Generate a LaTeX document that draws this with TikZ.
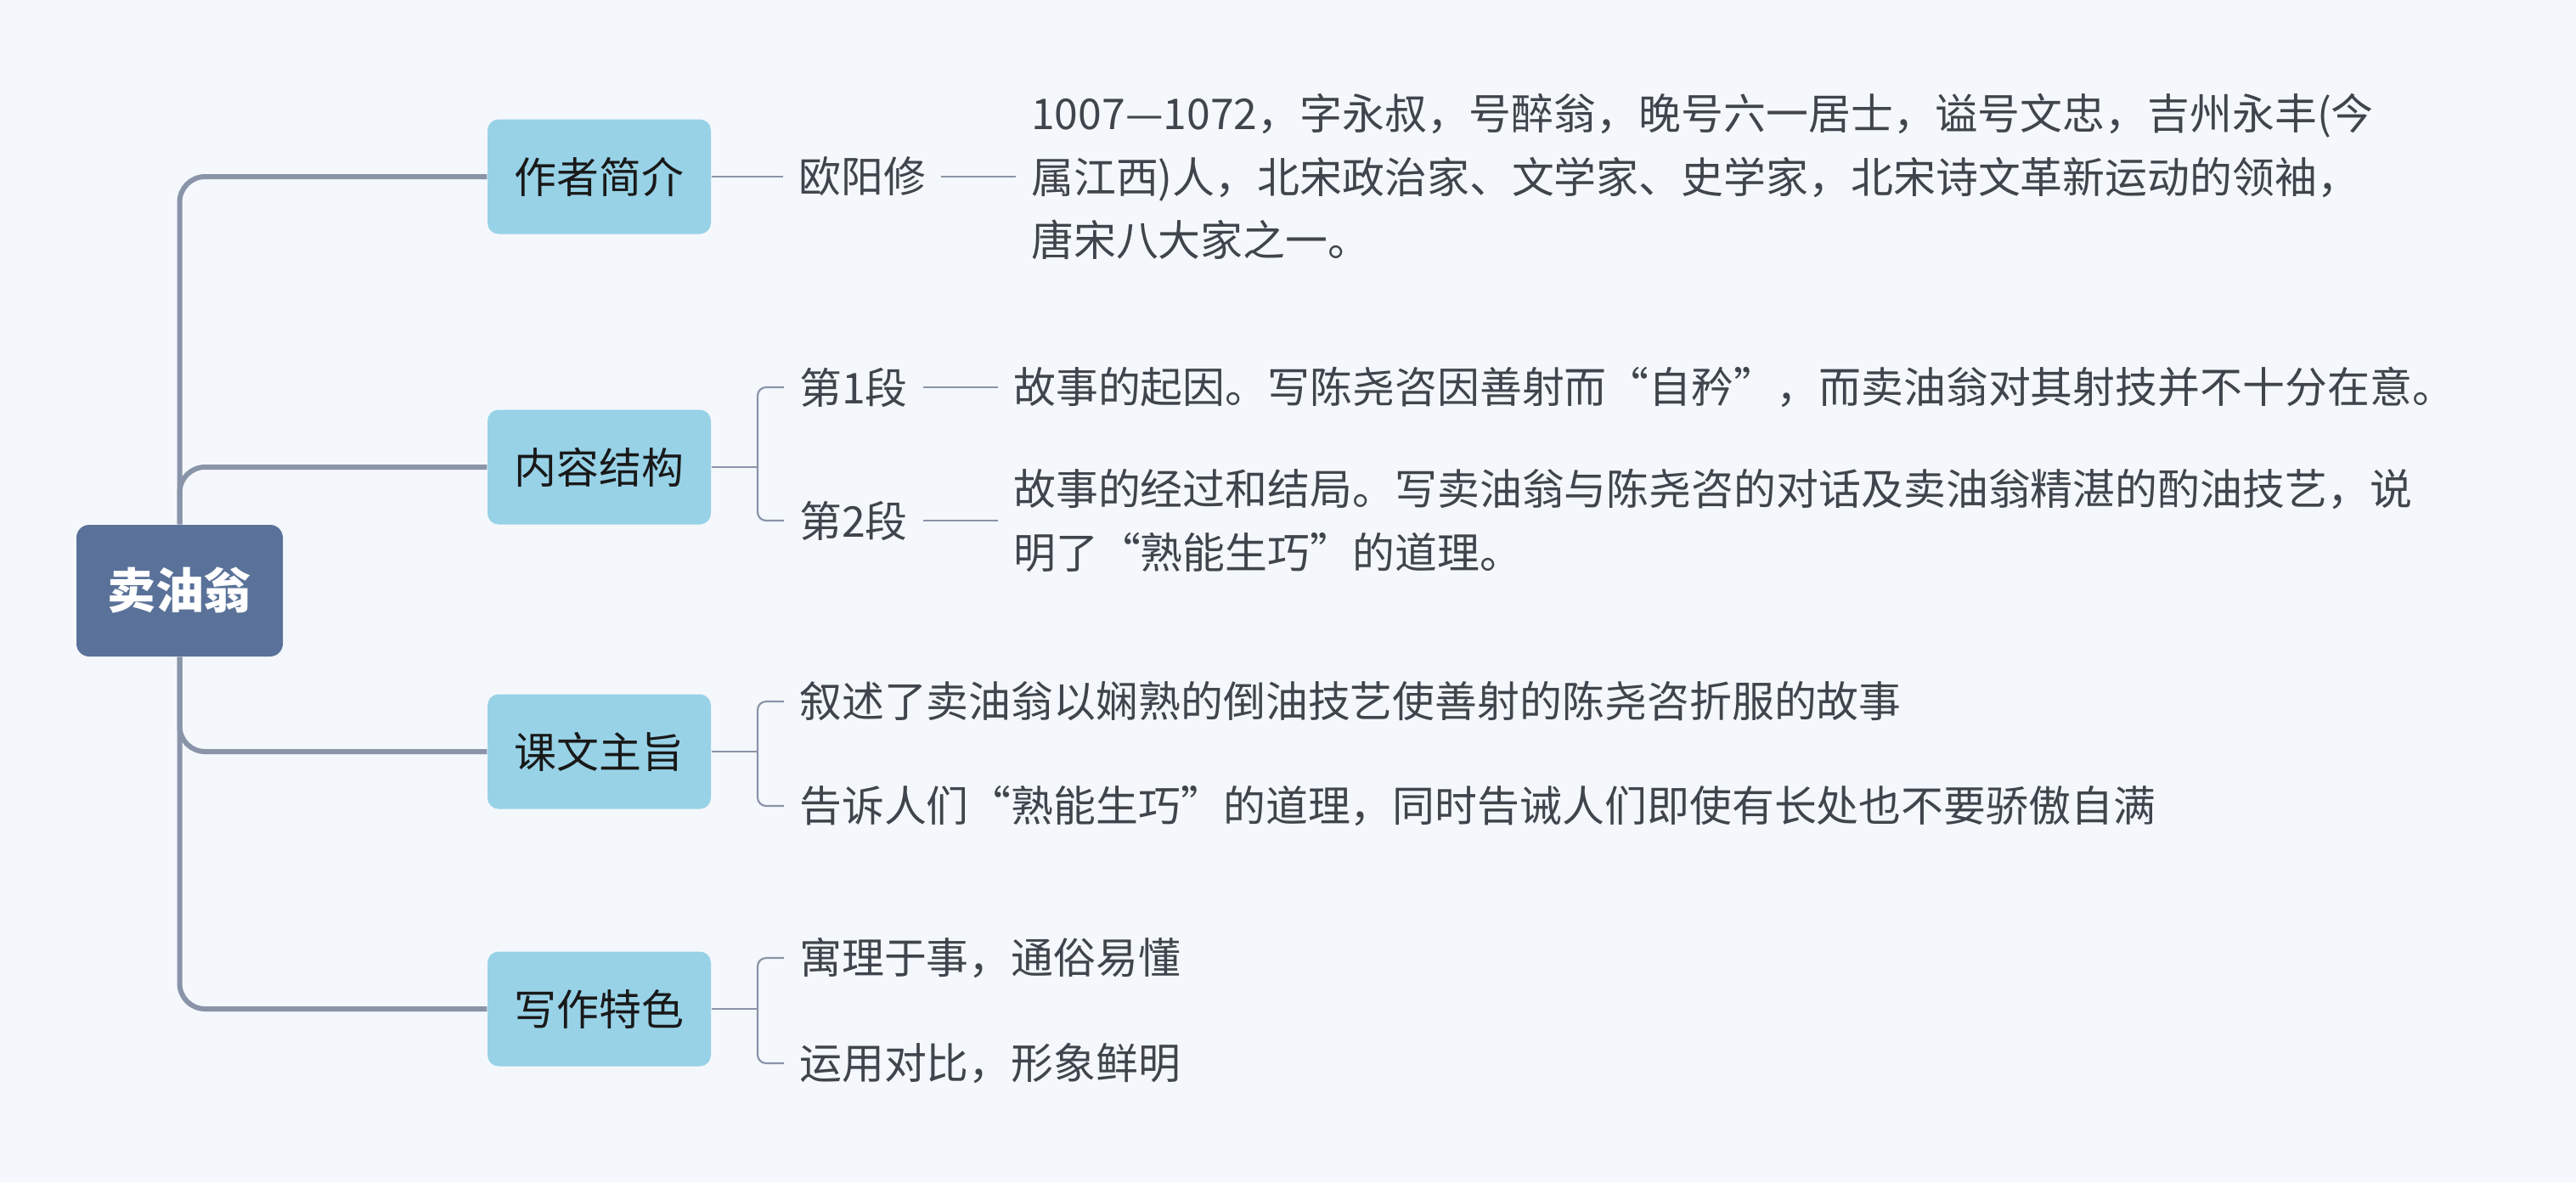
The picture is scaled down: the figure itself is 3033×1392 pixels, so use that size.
\documentclass[tikz,border=0pt]{standalone}
\usepackage{fontspec}
\setmainfont{Noto Sans CJK SC}
\definecolor{bgc}{HTML}{F4F8FC}
\definecolor{rootc}{HTML}{5A7299}
\definecolor{boxc}{HTML}{98D2E7}
\definecolor{linec}{HTML}{8A94A9}
\definecolor{txtc}{HTML}{40454D}
\begin{document}
\begin{tikzpicture}[x=0.1mm,y=-0.1mm,
  rootbox/.style={fill=rootc,rounded corners=1.5mm,minimum width=24.3mm,minimum height=15.5mm,inner sep=0,text=white,font=\fontsize{16.2pt}{19pt}\selectfont\bfseries},
  topicbox/.style={fill=boxc,rounded corners=1.3mm,minimum width=26.3mm,minimum height=13.5mm,inner sep=0,text=black!90,font=\fontsize{14.2pt}{17pt}\selectfont},
  leaf/.style={anchor=west,inner xsep=1.75mm,inner ysep=0pt,text=txtc,align=left,font=\fontsize{14.2pt}{21.3pt}\selectfont},
  thickline/.style={draw=linec,line width=0.6mm,rounded corners=3mm},
  thinline/.style={draw=linec,line width=0.22mm,rounded corners=1mm}]
\fill[bgc] (0,0) rectangle (3033,1392);
\useasboundingbox (0,0) rectangle (3033,1392);
% root and topics
\node[rootbox] (root) at (211.5,695.5) {卖油翁};
\node[topicbox] (b1) at (705.5,208) {作者简介};
\node[topicbox] (b2) at (705.5,550) {内容结构};
\node[topicbox] (b3) at (705.5,885) {课文主旨};
\node[topicbox] (b4) at (705.5,1188) {写作特色};
\draw[thickline] (root.north) |- (b1.west);
\draw[thickline] (root.north) |- (b2.west);
\draw[thickline] (root.south) |- (b3.west);
\draw[thickline] (root.south) |- (b4.west);
% author
\node[leaf] (a1) at (922,208) {欧阳修};
\node[leaf] (a2) at (1196,208) {1007—1072，字永叔，号醉翁，晚号六一居士，谥号文忠，吉州永丰(今\\属江西)人，北宋政治家、文学家、史学家，北宋诗文革新运动的领袖，\\唐宋八大家之一。};
\draw[thinline] (b1.east) -- (a1.west);
\draw[thinline] (a1.east) -- (a1.east -| a2.west);
% structure
\coordinate (j2) at (892,550);
\node[leaf] (s1) at (923,456) {第1段};
\node[leaf] (s2) at (923,613) {第2段};
\node[leaf] (d1) at (1175,456) {故事的起因。写陈尧咨因善射而“自矜”，而卖油翁对其射技并不十分在意。};
\node[leaf] (d2) at (1175,613) {故事的经过和结局。写卖油翁与陈尧咨的对话及卖油翁精湛的酌油技艺，说\\明了“熟能生巧”的道理。};
\draw[thinline] (b2.east) -- (j2);
\draw[thinline] (s1.west) -| (j2) |- (s2.west);
\draw[thinline] (s1.east) -- (s1.east -| d1.west);
\draw[thinline] (s2.east) -- (s2.east -| d2.west);
% theme
\coordinate (j3) at (892,885);
\node[leaf] (k1) at (923,826) {叙述了卖油翁以娴熟的倒油技艺使善射的陈尧咨折服的故事};
\node[leaf] (k2) at (923,949) {告诉人们“熟能生巧”的道理，同时告诫人们即使有长处也不要骄傲自满};
\draw[thinline] (b3.east) -- (j3);
\draw[thinline] (k1.west) -| (j3) |- (k2.west);
% features
\coordinate (j4) at (892,1188);
\node[leaf] (w1) at (923,1128) {寓理于事，通俗易懂};
\node[leaf] (w2) at (923,1252) {运用对比，形象鲜明};
\draw[thinline] (b4.east) -- (j4);
\draw[thinline] (w1.west) -| (j4) |- (w2.west);
\end{tikzpicture}
\end{document}
